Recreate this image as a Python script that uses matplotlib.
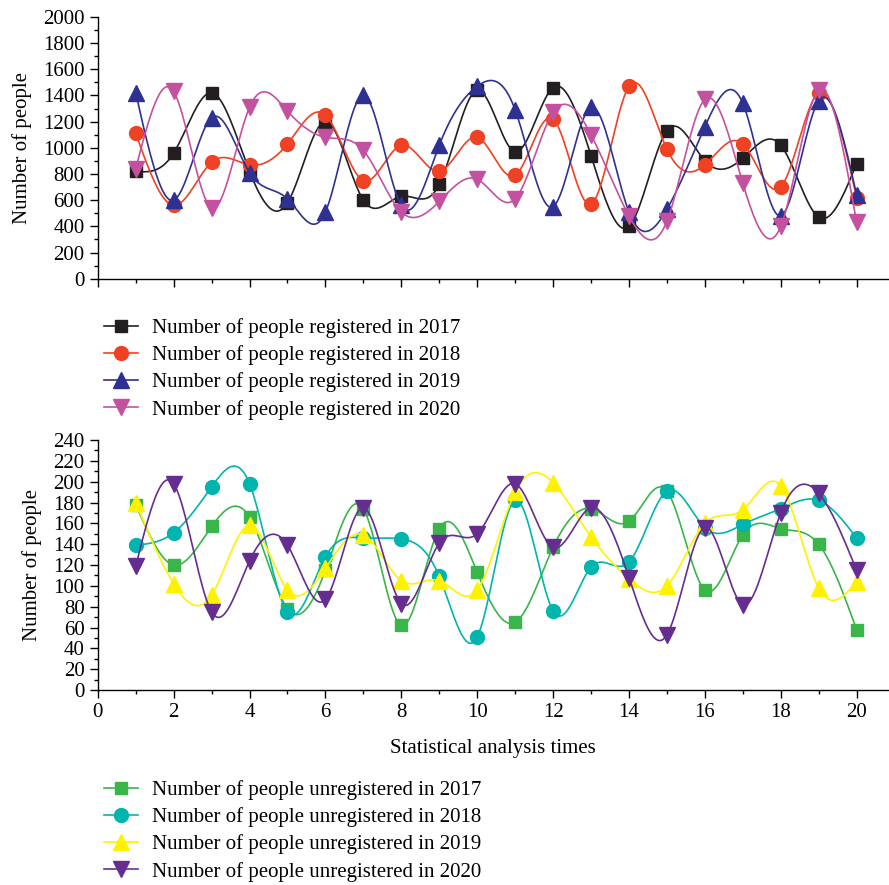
import numpy as np
import matplotlib
matplotlib.use("Agg")
import matplotlib.pyplot as plt
from matplotlib.lines import Line2D

plt.rcParams['font.family'] = ['Liberation Serif', 'DejaVu Serif']

# statistical analysis times
times = list(range(1, 21))

# registered (top panel)
reg_2017 = [820, 960, 1420, 820, 580, 1200, 600, 630, 720, 1440,
            970, 1460, 940, 400, 1130, 900, 920, 1020, 470, 880]
reg_2018 = [1110, 560, 890, 870, 1030, 1250, 750, 1020, 820, 1080,
            790, 1220, 570, 1470, 990, 870, 1030, 700, 1420, 620]
reg_2019 = [1420, 600, 1230, 810, 610, 510, 1400, 560, 1020, 1470,
            1290, 550, 1310, 510, 530, 1160, 1340, 480, 1360, 640]
reg_2020 = [840, 1430, 540, 1310, 1280, 1080, 980, 510, 590, 760,
            610, 1270, 1100, 480, 440, 1370, 730, 400, 1440, 430]

# unregistered (bottom panel)
unreg_2017 = [178, 120, 157, 166, 78, 115, 174, 62, 155, 113,
              65, 137, 174, 162, 191, 96, 149, 155, 140, 58]
unreg_2018 = [139, 151, 195, 198, 75, 128, 146, 145, 109, 51,
              182, 76, 118, 123, 191, 156, 159, 174, 182, 146]
unreg_2019 = [180, 102, 91, 158, 96, 117, 149, 105, 105, 96,
              190, 199, 147, 107, 100, 160, 173, 196, 98, 104]
unreg_2020 = [119, 198, 75, 124, 139, 87, 175, 83, 141, 150,
              198, 137, 175, 108, 53, 156, 82, 170, 189, 115]


def spline(x, y, n=400):
    # natural cubic spline, just for drawing the smooth connecting curve
    x = np.asarray(x, float)
    y = np.asarray(y, float)
    k = len(x)
    h = np.diff(x)
    A = np.zeros((k, k))
    b = np.zeros(k)
    A[0, 0] = A[-1, -1] = 1
    for i in range(1, k - 1):
        A[i, i - 1] = h[i - 1]
        A[i, i] = 2 * (h[i - 1] + h[i])
        A[i, i + 1] = h[i]
        b[i] = 6 * ((y[i + 1] - y[i]) / h[i] - (y[i] - y[i - 1]) / h[i - 1])
    M = np.linalg.solve(A, b)
    xs = np.linspace(x[0], x[-1], n)
    idx = np.clip(np.searchsorted(x, xs) - 1, 0, k - 2)
    x0, x1 = x[idx], x[idx + 1]
    hh = x1 - x0
    t0 = x1 - xs
    t1 = xs - x0
    ys = (M[idx] * t0 ** 3 + M[idx + 1] * t1 ** 3) / (6 * hh) \
        + (y[idx] / hh - M[idx] * hh / 6) * t0 \
        + (y[idx + 1] / hh - M[idx + 1] * hh / 6) * t1
    return xs, ys


fig = plt.figure(figsize=(8.89, 8.85), dpi=100)
ax1 = fig.add_axes([0.110, 0.685, 0.889, 0.296])
ax2 = fig.add_axes([0.110, 0.2203, 0.889, 0.2825])

top = [
    (reg_2017, '#231f20', 's', 9, 'Number of people registered in 2017'),
    (reg_2018, '#ef4123', 'o', 10, 'Number of people registered in 2018'),
    (reg_2019, '#2e3192', '^', 11, 'Number of people registered in 2019'),
    (reg_2020, '#c4519f', 'v', 11, 'Number of people registered in 2020'),
]
bottom = [
    (unreg_2017, '#39b54a', 's', 9, 'Number of people unregistered in 2017'),
    (unreg_2018, '#00b5ad', 'o', 10, 'Number of people unregistered in 2018'),
    (unreg_2019, '#fff200', '^', 11, 'Number of people unregistered in 2019'),
    (unreg_2020, '#662d91', 'v', 11, 'Number of people unregistered in 2020'),
]


def draw(ax, series):
    handles = []
    for vals, col, mk, ms, lab in series:
        xs, ys = spline(times, vals)
        ax.plot(xs, ys, color=col, lw=1.2)
        ax.plot(times, vals, ls='none', marker=mk, ms=ms, color=col)
        handles.append(Line2D([], [], color=col, lw=1.2, marker=mk, ms=ms, label=lab))
    return handles


h1 = draw(ax1, top)
h2 = draw(ax2, bottom)

for ax in (ax1, ax2):
    ax.set_xlim(0, 20.83)
    ax.spines['top'].set_visible(False)
    ax.spines['right'].set_visible(False)
    ax.set_xticks(range(0, 21, 2))
    ax.set_xticks(range(1, 21, 2), minor=True)
    ax.tick_params(which='major', length=6, width=1, labelsize=15, direction='out')
    ax.tick_params(which='minor', length=3, width=1, direction='out')
    for s in ax.spines.values():
        s.set_linewidth(1)
    ax.set_ylabel('Number of people', fontsize=15, labelpad=8)

ax1.set_ylim(0, 2000)
ax1.set_yticks(range(0, 2001, 200))
ax1.set_yticks(range(100, 2000, 200), minor=True)
ax1.tick_params(axis='x', labelbottom=False)

ax2.set_ylim(0, 240)
ax2.set_yticks(range(0, 241, 20))
ax2.set_yticks(range(10, 240, 20), minor=True)
ax2.set_xlabel('Statistical analysis times', fontsize=15, labelpad=12)

fig.legend(handles=h1, loc='upper left', bbox_to_anchor=(0.108, 0.650),
           frameon=False, fontsize=15, handlelength=1.6, handletextpad=0.7,
           labelspacing=0.35, borderaxespad=0)
fig.legend(handles=h2, loc='upper left', bbox_to_anchor=(0.108, 0.128),
           frameon=False, fontsize=15, handlelength=1.6, handletextpad=0.7,
           labelspacing=0.35, borderaxespad=0)

fig.savefig('out.png', dpi=100)
